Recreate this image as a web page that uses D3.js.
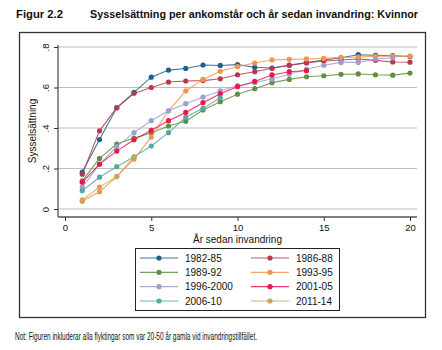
<!DOCTYPE html>
<html>
<head>
<meta charset="utf-8">
<script src="https://cdn.jsdelivr.net/npm/d3@7"></script>
<style>
  body { margin: 0; background: #fff; }
  svg { display: block; }
  text { font-family: "Liberation Sans", Arial, sans-serif; fill: #111; }
  .cond { font-family: "Liberation Sans Narrow", "Arial Narrow", "Liberation Sans", sans-serif; }
</style>
</head>
<body>
<svg id="chart" width="442" height="350"></svg>
<script>
// Sysselsättning per ankomstår och år sedan invandring (kvinnor)

const years = d3.range(1, 21);   // år sedan invandring 1..20
const cohorts = ["1982-85", "1986-88", "1989-92", "1993-95", "1996-2000", "2001-05", "2006-10", "2011-14"];
const colors = ["#1f5f8e", "#b8374f", "#5f8f42", "#f5944c", "#9e9ed2", "#e8184a", "#55a8a2", "#c6a657"];

// avlästa värden, ett värde per år
const v1982_85 = [.182, .343, .50, .576, .651, .686, .694, .711, .709, .713, .700, .696, .711, .723, .736, .747, .762, .759, .757, .753];
const v1986_88 = [.172, .386, .50, .571, .600, .627, .632, .634, .643, .663, .678, .695, .709, .721, .731, .736, .741, .734, .726, .725];
const v1989_92 = [.139, .250, .321, .350, .375, .410, .433, .489, .530, .567, .594, .624, .640, .653, .658, .665, .667, .663, .661, .671];
const v1993_95 = [.045, .108, .160, .246, .355, .485, .583, .640, .680, .703, .721, .736, .739, .741, .744, .749, .750, .754, .755, .755];
const v1996_00 = [.108, .220, .308, .377, .436, .485, .520, .553, .583, .609, .625, .642, .665, .690, .710, .724, .724, .741, .747];
const v2001_05 = [.132, .222, .286, .342, .389, .436, .477, .525, .569, .604, .630, .662, .678, .683];
const v2006_10 = [.090, .157, .209, .258, .311, .377, .453, .497, .549];
const v2011_14 = [.038, .085, .160, .258];

const allValues = [v1982_85, v1986_88, v1989_92, v1993_95, v1996_00, v2001_05, v2006_10, v2011_14];

const yTicks = [0, 0.2, 0.4, 0.6, 0.8];
const xTicks = [0, 5, 10, 15, 20];

const series = cohorts.map((c, i) => ({
    name: c,
    color: colors[i],
    points: allValues[i].map((v, j) => ({ year: years[j], value: v }))
}));

const svg = d3.select("#chart");

// rubrik
svg.append("text").attr("class", "cond")
    .attr("x", 16).attr("y", 18)
    .attr("font-size", 11).attr("font-weight", "bold")
    .attr("textLength", 47).attr("lengthAdjust", "spacingAndGlyphs")
    .text("Figur 2.2");
svg.append("text").attr("class", "cond")
    .attr("x", 90).attr("y", 18)
    .attr("font-size", 11).attr("font-weight", "bold")
    .attr("textLength", 328).attr("lengthAdjust", "spacingAndGlyphs")
    .text("Sysselsättning per ankomstår och år sedan invandring: Kvinnor");

// ram runt figuren
svg.append("rect")
    .attr("x", 19.5).attr("y", 32.5)
    .attr("width", 406).attr("height", 285)
    .attr("fill", "none").attr("stroke", "#333").attr("stroke-width", 1.3);

// not
svg.append("text").attr("class", "cond")
    .attr("x", 15).attr("y", 340)
    .attr("font-size", 10)
    .attr("textLength", 242).attr("lengthAdjust", "spacingAndGlyphs")
    .text("Not: Figuren inkluderar alla flyktingar som var 20-50 år gamla vid invandringstillfället.");

// plotområde
const plot = { left: 58, right: 417, top: 45, bottom: 217 };

const x = d3.scaleLinear().domain([0, 20]).range([65, 410]);
const y = d3.scaleLinear().domain([0, 0.8]).range([209, 47]);

// rutnät
svg.append("g")
    .selectAll("line")
    .data(yTicks)
    .join("line")
    .attr("x1", plot.left).attr("x2", plot.right)
    .attr("y1", d => y(d)).attr("y2", d => y(d))
    .attr("stroke", "#bdbdbd").attr("stroke-width", 1.1);

// y-axel
const yAxis = svg.append("g")
    .attr("transform", `translate(${plot.left},0)`)
    .call(d3.axisLeft(y).tickValues(yTicks).tickSize(4).tickSizeOuter(0)
        .tickFormat(d => d === 0 ? "0" : d3.format(".1f")(d).replace(/^0/, "")));
yAxis.select(".domain").attr("d", `M0,${plot.top}V${plot.bottom}`).attr("stroke", "#555").attr("stroke-width", 1.3);
yAxis.selectAll(".tick line").attr("stroke", "#333");
yAxis.selectAll(".tick text")
    .attr("font-size", 9.5)
    .attr("x", 0).attr("dy", 0)
    .attr("text-anchor", "middle")
    .attr("transform", "translate(-9,0) rotate(-90)")
    .attr("font-family", "Liberation Sans, Arial, sans-serif")
    .attr("fill", "#111");

// x-axel
const xAxis = svg.append("g")
    .attr("transform", `translate(0,${plot.bottom})`)
    .call(d3.axisBottom(x).tickValues(xTicks).tickSize(4).tickSizeOuter(0));
xAxis.select(".domain").attr("d", `M${plot.left},0H${plot.right}`).attr("stroke", "#555").attr("stroke-width", 1.3);
xAxis.selectAll(".tick line").attr("stroke", "#333");
xAxis.selectAll(".tick text")
    .attr("font-size", 9.5).attr("y", 7).attr("dy", "0.71em")
    .attr("font-family", "Liberation Sans, Arial, sans-serif")
    .attr("fill", "#111");

// axeltitlar
svg.append("text")
    .attr("transform", `translate(36,${(plot.top + plot.bottom) / 2}) rotate(-90)`)
    .attr("text-anchor", "middle")
    .attr("font-size", 10)
    .text("Sysselsättning");
svg.append("text")
    .attr("x", (plot.left + plot.right) / 2).attr("y", 243)
    .attr("text-anchor", "middle")
    .attr("font-size", 10)
    .text("År sedan invandring");

// linjer och markörer
const line = d3.line()
    .x(d => x(d.year))
    .y(d => y(d.value));

const gSeries = svg.append("g");
series.forEach(s => {
    const g = gSeries.append("g");
    g.append("path")
        .datum(s.points)
        .attr("fill", "none")
        .attr("stroke", s.color)
        .attr("stroke-opacity", 0.85)
        .attr("stroke-width", 1.1)
        .attr("d", line);
    g.selectAll("circle")
        .data(s.points)
        .join("circle")
        .attr("cx", d => x(d.year))
        .attr("cy", d => y(d.value))
        .attr("r", 2.6)
        .attr("fill", s.color);
});

// legend
const legend = svg.append("g");
legend.append("rect")
    .attr("x", 135.5).attr("y", 248.5)
    .attr("width", 204).attr("height", 62)
    .attr("fill", "#fff").attr("stroke", "#222").attr("stroke-width", 1);

const legCol = [140, 251];
const legRow = d3.scalePoint().domain([0, 1, 2, 3]).range([258, 301]);

const items = legend.selectAll("g.item")
    .data(series)
    .join("g")
    .attr("class", "item")
    .attr("transform", (d, i) => `translate(${legCol[i % 2]},${legRow(Math.floor(i / 2))})`);
items.append("line")
    .attr("x1", 0).attr("x2", 38)
    .attr("stroke", d => d.color).attr("stroke-opacity", 0.85).attr("stroke-width", 1.1);
items.append("circle")
    .attr("cx", 19).attr("r", 2.6)
    .attr("fill", d => d.color);
items.append("text")
    .attr("x", 45).attr("dy", "0.36em")
    .attr("font-size", 10)
    .text(d => d.name);
</script>
</body>
</html>
